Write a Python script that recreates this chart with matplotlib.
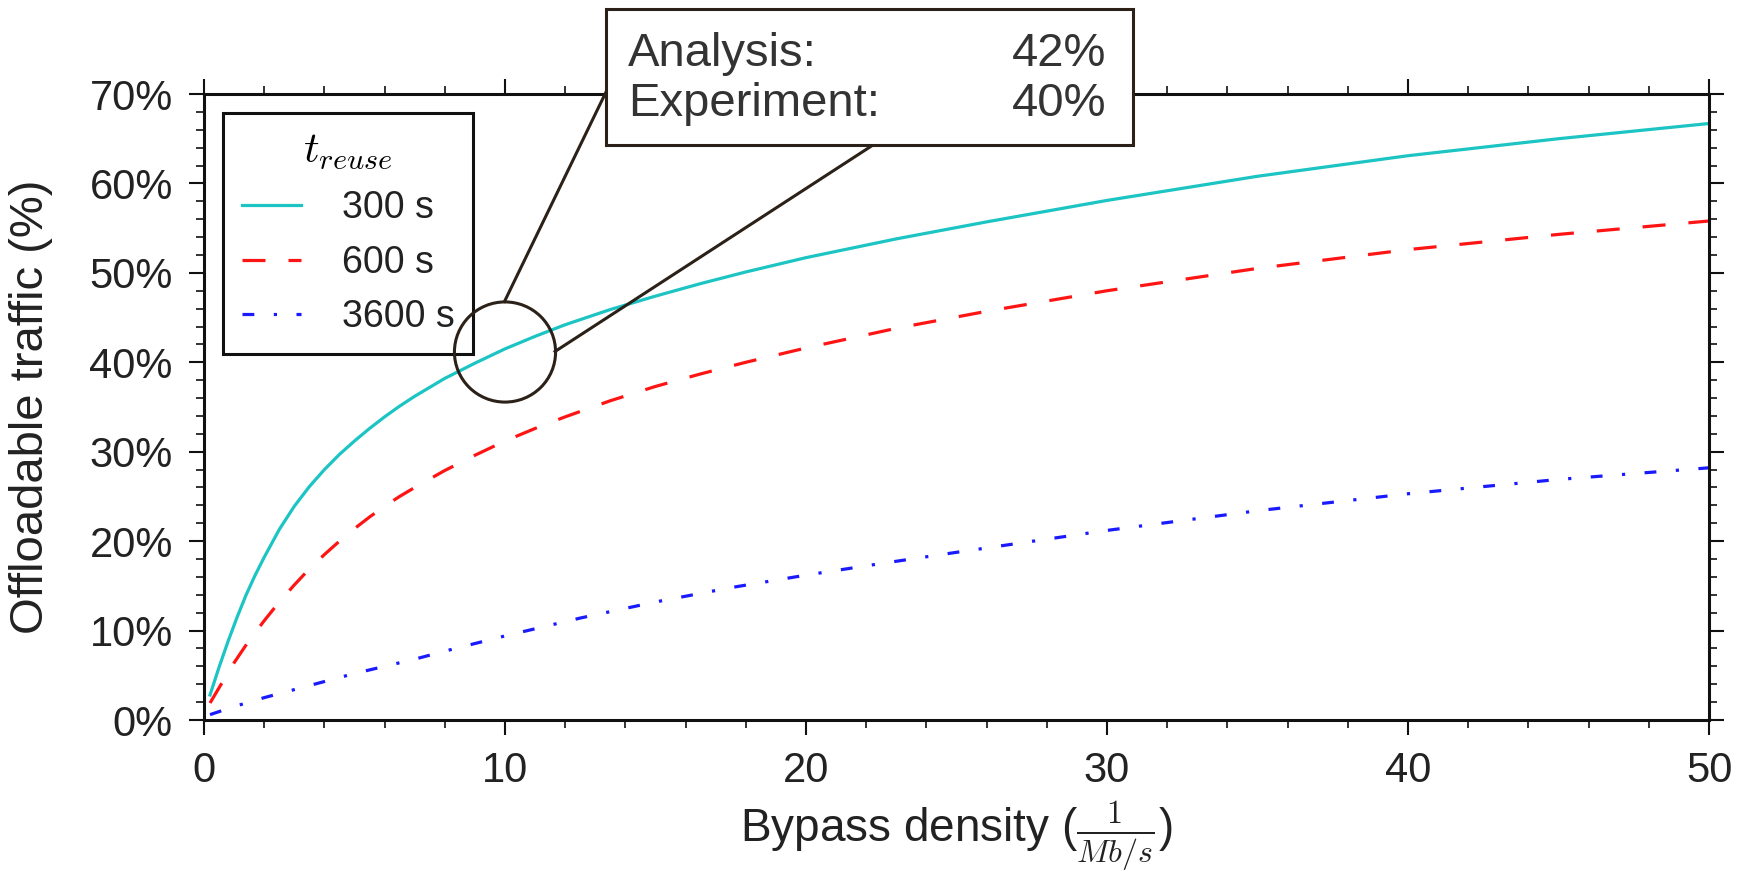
import matplotlib.pyplot as plt
from matplotlib.patches import Rectangle, Ellipse
from matplotlib.lines import Line2D
from matplotlib.ticker import MultipleLocator, FormatStrFormatter

plt.rcParams['font.family'] = ['Liberation Sans', 'DejaVu Sans']
plt.rcParams['mathtext.fontset'] = 'cm'

# offloadable traffic (%) vs bypass density
x_300 = [0.2, 0.5, 0.8, 1.1, 1.4, 1.7, 2.0, 2.5, 3.0, 3.5, 4.0, 4.5, 5.0, 5.5, 6.0, 6.5,
         7.0, 8.0, 9.0, 10.0, 11.0, 12.0, 13.5, 15.0, 16.5, 18.0, 20.0, 23.0, 26.0,
         30.0, 35.0, 40.0, 45.0, 50.0]
y_300 = [2.8, 5.9, 8.8, 11.5, 14.0, 16.2, 18.2, 21.3, 23.9, 26.1, 28.0, 29.7, 31.2, 32.6,
         33.9, 35.1, 36.2, 38.2, 39.9, 41.5, 42.9, 44.2, 45.9, 47.4, 48.8, 50.1, 51.7,
         53.8, 55.7, 58.1, 60.8, 63.1, 65.0, 66.7]

x_600 = [0.2, 0.5, 1.0, 1.5, 2.0, 2.5, 3.0, 3.5, 4.0, 4.5, 5.0, 5.5, 6.0, 6.5, 7.0, 8.0,
         9.0, 10.0, 11.0, 12.0, 13.5, 15.0, 16.5, 18.0, 20.0, 23.0, 26.0, 30.0, 35.0,
         40.0, 45.0, 50.0]
y_600 = [1.9, 3.6, 6.4, 8.9, 11.1, 13.2, 15.1, 16.9, 18.5, 20.0, 21.4, 22.7, 23.9, 25.0,
         26.0, 27.9, 29.6, 31.2, 32.6, 33.9, 35.7, 37.3, 38.7, 40.0, 41.6, 43.8, 45.7,
         48.0, 50.5, 52.6, 54.3, 55.8]

x_3600 = [0.2, 1.0, 2.0, 3.0, 4.0, 5.0, 6.0, 7.0, 8.0, 10.0, 12.5, 15.0, 17.5, 20.0,
          22.5, 25.0, 30.0, 35.0, 40.0, 45.0, 50.0]
y_3600 = [0.6, 1.5, 2.5, 3.4, 4.3, 5.2, 6.0, 6.8, 7.7, 9.4, 11.4, 13.2, 14.8, 16.2,
          17.5, 18.75, 21.2, 23.4, 25.3, 26.9, 28.2]

labels = ['300 s', '600 s', '3600 s']
analysis_txt = ['Analysis:', 'Experiment:']
analysis_val = ['42%', '40%']

W, H = 1750, 875
def fx(p):
    return p / W
def fy(p):
    return 1 - p / H

fig = plt.figure(figsize=(17.5, 8.75), dpi=100)
ax = fig.add_axes([fx(204), fy(720), fx(1709) - fx(204), fy(94) - fy(720)])

ax.plot(x_300, y_300, color='#1cc4c4', lw=2.3, label=labels[0])
ax.plot(x_600, y_600, color='#ff1414', lw=2.3, dashes=(7.2, 7.2), label=labels[1])
ax.plot(x_3600, y_3600, color='#1a1aff', lw=2.3, dashes=(3.7, 6.1, 1, 6.1), label=labels[2])

ax.set_xlim(0, 50)
ax.set_ylim(0, 70)
ax.xaxis.set_major_locator(MultipleLocator(10))
ax.xaxis.set_minor_locator(MultipleLocator(2))
ax.yaxis.set_major_locator(MultipleLocator(10))
ax.yaxis.set_minor_locator(MultipleLocator(2))
ax.yaxis.set_major_formatter(FormatStrFormatter('%d%%'))

ax.tick_params(which='both', direction='out', top=True, right=True, colors='#111111',
               labelcolor='#222222')
ax.tick_params(which='major', length=10.5, width=1.5, pad=12, labelsize=30)
ax.tick_params(which='minor', length=5.5, width=1.2)
for s in ax.spines.values():
    s.set_linewidth(2.2)
    s.set_color('#111111')

ax.set_xlabel('Bypass density ($\\frac{1}{Mb/s}$)', fontsize=33, color='#222222', labelpad=6)
ax.set_ylabel('Offloadable traffic (%)', fontsize=34, color='#222222', labelpad=26)

leg = ax.legend(loc='upper left', bbox_to_anchor=(fx(223), fy(113)), bbox_transform=fig.transFigure,
                borderaxespad=0, fontsize=27, title='$t_{reuse}$', title_fontsize=31,
                handlelength=1.57, handletextpad=1.09, borderpad=0.5, labelspacing=0.49,
                fancybox=False, edgecolor='#111111', framealpha=1, labelcolor='#222222')
leg.get_frame().set_linewidth(2.2)

# highlight circle and call-out box
dark = '#2b2118'
ax.add_patch(Ellipse((10.0, 41.15), 3.36, 11.2, fill=False, ec=dark, lw=2.2,
                     zorder=6, clip_on=False))
fig.add_artist(Line2D([fx(504.5), fx(606)], [fy(301.5), fy(92)], color=dark, lw=2.2, zorder=9))
fig.add_artist(Line2D([fx(555), fx(873)], [fy(351.5), fy(145)], color=dark, lw=2.2, zorder=9))
fig.add_artist(Rectangle((fx(606), fy(145)), fx(1133) - fx(606), fy(9) - fy(145),
                         transform=fig.transFigure, fc='white', ec=dark, lw=2.2, zorder=10))
for i, yy in enumerate([54, 104]):
    fig.text(fx(628), fy(yy), analysis_txt[i], ha='left', va='center', fontsize=34,
             color='#333333', zorder=11)
    fig.text(fx(1106), fy(yy), analysis_val[i], ha='right', va='center', fontsize=34,
             color='#333333', zorder=11)

plt.savefig('out.png', dpi=100)
